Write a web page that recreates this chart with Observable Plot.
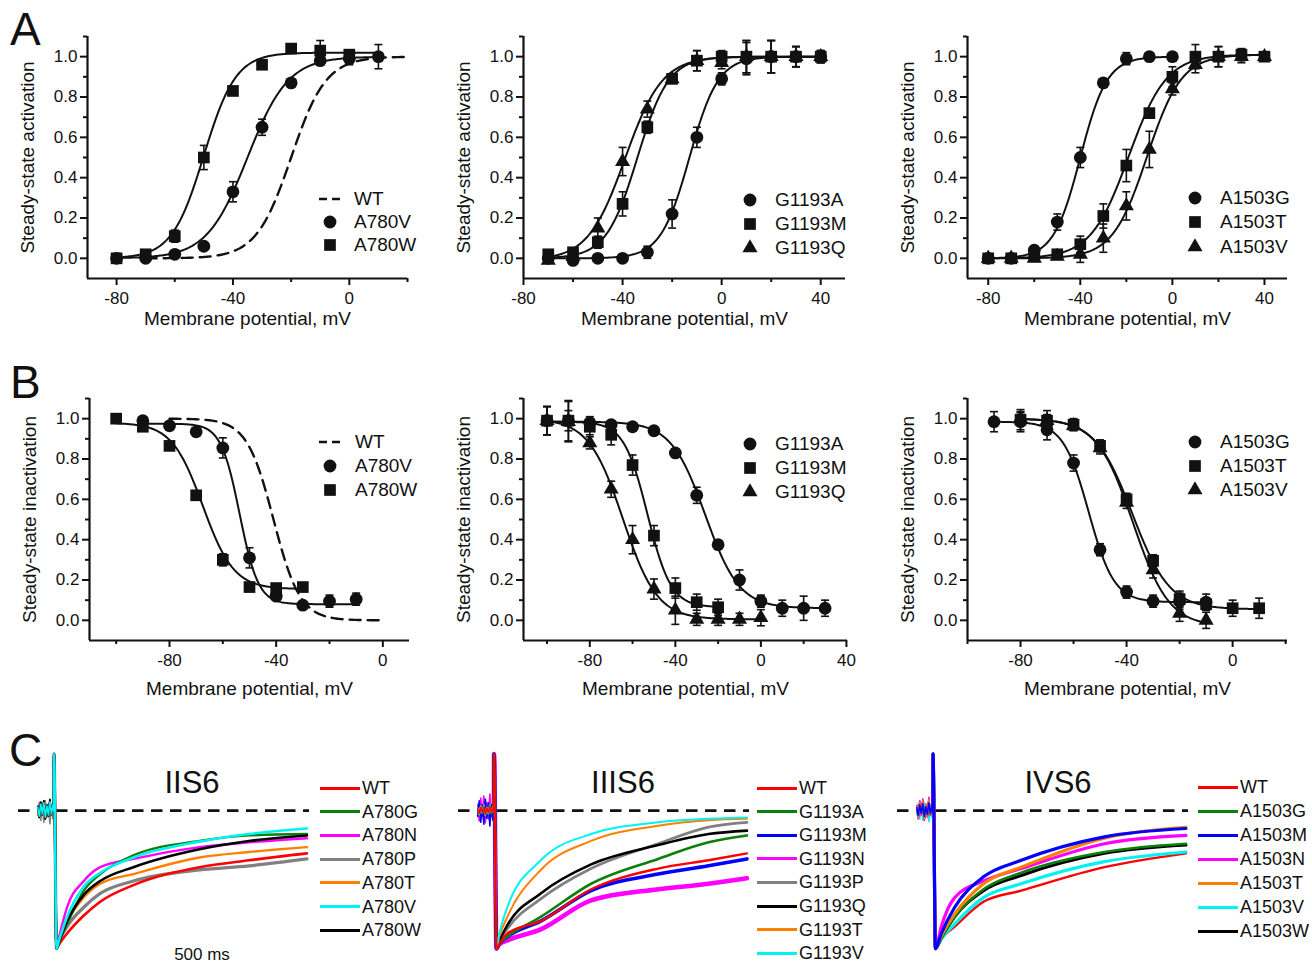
<!DOCTYPE html>
<html>
<head>
<meta charset="utf-8">
<script src="https://cdn.jsdelivr.net/npm/d3@7"></script>
<script src="https://cdn.jsdelivr.net/npm/@observablehq/plot@0.6"></script>
<style>
  body { margin: 0; background: #fff; font-family: Arial, "Liberation Sans", Helvetica, sans-serif; color: #111; }
  #root { position: relative; width: 1312px; height: 964px; overflow: hidden; background: #fff; }
  .letter { position: absolute; font-size: 46px; line-height: 46px; color: #111; }
  .title { position: absolute; font-size: 31px; line-height: 31px; transform: translateX(-50%); white-space: nowrap; }
  .legrow { position: absolute; height: 22px; line-height: 22px; font-size: 19px; white-space: nowrap; }
  .clegrow { position: absolute; height: 22px; line-height: 22px; font-size: 18px; white-space: nowrap; }
  .cline { position: absolute; top: 9.5px; height: 3px; width: 40px; left: 0; }
</style>
</head>
<body>
<div id="root"></div>
<script>
// ================= DATA =================
// ---- Row A: steady-state activation (membrane potential, mV) ----
// IIS6
const vActA780V = [-80,-70,-60,-50,-40,-30,-20,-10,0,10];
const actA780V  = [0.00,0.00,0.02,0.06,0.33,0.65,0.87,0.98,0.99,1.00];
const errActA780V = [0.01,0.01,0.02,0.01,0.05,0.04,0.02,0.02,0.03,0.06];
const vActA780W = [-80,-70,-60,-50,-40,-30,-20,-10,0];
const actA780W  = [0.00,0.02,0.11,0.50,0.83,0.96,1.04,1.03,1.01];
const errActA780W = [0.01,0.01,0.03,0.06,0.02,0.01,0.02,0.05,0.02];
// IIIS6
const vActG1193 = [-70,-60,-50,-40,-30,-20,-10,0,10,20,30,40];
const actG1193A = [0.00,-0.01,0.00,0.00,0.03,0.22,0.60,0.89,0.99,1.00,1.00,1.00];
const errActG1193A = [0.01,0.01,0.01,0.01,0.03,0.07,0.05,0.03,0.08,0.08,0.05,0.03];
const actG1193M = [0.02,0.03,0.08,0.27,0.65,0.89,0.98,1.00,1.00,1.00,1.00,1.00];
const errActG1193M = [0.01,0.01,0.03,0.06,0.03,0.02,0.05,0.03,0.08,0.08,0.05,0.03];
const actG1193Q = [-0.01,0.01,0.15,0.48,0.74,0.89,0.98,0.97,1.00,1.00,1.00,1.00];
const errActG1193Q = [0.01,0.01,0.05,0.07,0.04,0.02,0.05,0.03,0.08,0.08,0.05,0.03];
// IVS6
const vActA1503G = [-80,-70,-60,-50,-40,-30,-20,-10,0];
const actA1503G  = [0.00,0.00,0.04,0.18,0.50,0.87,0.99,1.00,1.00];
const errActA1503G = [0.01,0.01,0.02,0.04,0.05,0.02,0.03,0.02,0.02];
const vActA1503 = [-80,-70,-60,-50,-40,-30,-20,-10,0,10,20,30,40];
const actA1503T = [0.00,0.00,0.01,0.02,0.07,0.21,0.46,0.72,0.90,1.00,1.00,1.01,1.00];
const errActA1503T = [0.01,0.01,0.01,0.01,0.04,0.06,0.08,0.02,0.05,0.06,0.05,0.03,0.02];
const actA1503V = [0.00,0.00,0.00,0.01,0.02,0.10,0.26,0.54,0.84,0.96,1.00,1.00,1.00];
const errActA1503V = [0.01,0.01,0.01,0.01,0.04,0.07,0.07,0.09,0.03,0.04,0.05,0.03,0.02];

// ---- Row B: steady-state inactivation ----
// IIS6
const vInA780V = [-90,-80,-70,-60,-50,-40,-30,-20,-10];
const inA780V  = [0.99,0.965,0.935,0.855,0.31,0.12,0.075,0.095,0.105];
const errInA780V = [0.02,0.01,0.01,0.05,0.05,0.01,0.01,0.03,0.03];
const vInA780W = [-100,-90,-80,-70,-60,-50,-40,-30];
const inA780W  = [1.00,0.96,0.865,0.62,0.30,0.165,0.16,0.165];
const errInA780W = [0.01,0.02,0.02,0.02,0.03,0.02,0.02,0.02];
// IIIS6
const vInG1193A = [-100,-90,-80,-70,-60,-50,-40,-30,-20,-10,0,10,20,30];
const inG1193A  = [0.99,0.99,0.98,0.97,0.96,0.94,0.83,0.62,0.375,0.20,0.095,0.06,0.06,0.06];
const errInG1193A = [0.07,0.05,0.03,0.02,0.01,0.02,0.02,0.04,0.02,0.05,0.03,0.04,0.06,0.04];
const vInG1193M = [-100,-90,-80,-70,-60,-50,-40,-30,-20];
const inG1193M  = [0.99,0.99,0.96,0.92,0.77,0.42,0.16,0.09,0.065];
const errInG1193M = [0.07,0.10,0.04,0.05,0.05,0.05,0.05,0.04,0.04];
const vInG1193Q = [-100,-90,-80,-70,-60,-50,-40,-30,-20,-10,0];
const inG1193Q  = [0.99,0.985,0.88,0.65,0.40,0.155,0.05,0.005,0.005,0.005,0.013];
const errInG1193Q = [0.07,0.10,0.03,0.04,0.07,0.05,0.07,0.03,0.03,0.03,0.04];
// IVS6
const vInA1503G = [-90,-80,-70,-60,-50,-40,-30,-20,-10];
const inA1503G  = [0.985,0.985,0.945,0.78,0.35,0.14,0.095,0.095,0.09];
const errInA1503G = [0.05,0.05,0.05,0.04,0.03,0.03,0.03,0.04,0.04];
const vInA1503T = [-80,-70,-60,-50,-40,-30,-20,-10,0,10];
const inA1503T  = [0.995,0.99,0.97,0.865,0.60,0.295,0.105,0.08,0.06,0.06];
const errInA1503T = [0.05,0.05,0.03,0.03,0.03,0.03,0.04,0.03,0.04,0.05];
const vInA1503V = [-80,-70,-60,-50,-40,-30,-20,-10];
const inA1503V  = [1.00,0.99,0.965,0.855,0.585,0.25,0.035,0.00];
const errInA1503V = [0.03,0.03,0.02,0.03,0.03,0.04,0.04,0.04];

// ---- Boltzmann fit parameters: [name, V1/2, k, top, bottom, from, to, dashed] ----
const fitsActIIS6  = [["WT",-20,6,1.0,0,-70,20,true],["A780V",-35,7,1.0,0,-80,10,false],["A780W",-50,5.5,1.02,0,-80,10,false]];
const fitsActIIIS6 = [["G1193A",-13,5.8,1.0,0,-70,40,false],["G1193M",-34,6.3,1.0,0,-70,40,false],["G1193Q",-39,7.5,1.0,-0.01,-70,40,false]];
const fitsActIVS6  = [["A1503G",-40,5.8,1.0,0,-80,0,false],["A1503T",-19,8.2,1.01,0,-80,40,false],["A1503V",-11,7.5,1.01,0,-80,40,false]];
const fitsInIIS6   = [["WT",-41,-5,1.0,0,-80,0,true],["A780V",-53.7,-3.5,0.975,0.08,-90,-10,false],["A780W",-67.5,-5.8,0.98,0.155,-100,-30,false]];
const fitsInIIIS6  = [["G1193A",-26,-8,0.985,0.06,-100,30,false],["G1193M",-53,-5.5,0.985,0.065,-100,-20,false],["G1193Q",-64.5,-8,1.0,0.005,-100,0,false]];
const fitsInIVS6   = [["A1503G",-54.3,-4.8,0.985,0.09,-90,-10,false],["A1503T",-37.8,-7,1.0,0.055,-80,10,false],["A1503V",-37.6,-6.8,1.0,-0.03,-80,-10,false]];

// ---- Axis ticks ----
const yMajorTicks = [0,0.2,0.4,0.6,0.8,1.0];
const yMinorTicks = [0.1,0.3,0.5,0.7,0.9,1.1];
const xMajorTicks = [-80,-40,0,40];
const xMinorTicks = [-100,-60,-20,20];

// ---- Row C: normalized current traces (time, ms) ----
const tPre = [-64,-58,-52,-46,-40,-34,-28,-22,-16,-10,-4,0];
const preNoise = [0.03,-0.05,0.06,-0.03,0.07,-0.06,0.04,-0.04,0.08,-0.03,0.05,0.0];
const tSpike = [0, 0.5];
const iSpike = [0.0, 0.41];

const tIIS6 = [10,20,52,118,183,314,575,771,1000];
const iIIS6_WT    = [-1.0,-0.97,-0.89,-0.76,-0.66,-0.54,-0.41,-0.36,-0.31];
const iIIS6_A780G = [-1.0,-0.95,-0.82,-0.58,-0.46,-0.325,-0.22,-0.18,-0.17];
const iIIS6_A780N = [-1.0,-0.92,-0.70,-0.51,-0.41,-0.35,-0.265,-0.23,-0.20];
const iIIS6_A780P = [-1.0,-0.95,-0.84,-0.70,-0.60,-0.51,-0.43,-0.40,-0.35];
const iIIS6_A780T = [-1.0,-0.95,-0.81,-0.63,-0.53,-0.46,-0.34,-0.30,-0.265];
const iIIS6_A780V = [-1.0,-0.94,-0.77,-0.55,-0.45,-0.34,-0.225,-0.17,-0.13];
const iIIS6_A780W = [-1.0,-0.95,-0.80,-0.61,-0.51,-0.41,-0.28,-0.22,-0.18];

const tIIIS6 = [10,20,53,185,384,649,848,1000];
const iIIIS6_WT     = [-1.0,-0.97,-0.89,-0.80,-0.57,-0.42,-0.36,-0.31];
const iIIIS6_G1193A = [-1.0,-0.97,-0.915,-0.77,-0.53,-0.35,-0.23,-0.18];
const iIIIS6_G1193M = [-1.0,-0.97,-0.915,-0.80,-0.58,-0.46,-0.40,-0.35];
const iIIIS6_G1193N = [-1.0,-0.97,-0.94,-0.86,-0.65,-0.57,-0.53,-0.49];
const iIIIS6_G1193P = [-1.0,-0.95,-0.855,-0.64,-0.42,-0.24,-0.12,-0.085];
const iIIIS6_G1193Q = [-1.0,-0.95,-0.83,-0.60,-0.39,-0.25,-0.17,-0.145];
const iIIIS6_G1193T = [-1.0,-0.92,-0.77,-0.43,-0.22,-0.11,-0.07,-0.06];
const iIIIS6_G1193V = [-1.0,-0.90,-0.70,-0.36,-0.17,-0.085,-0.06,-0.05];

const tIVS6 = [10,33,86,200,349,678,1000];
const iIVS6_WT     = [-1.0,-0.93,-0.84,-0.66,-0.58,-0.41,-0.31];
const iIVS6_A1503G = [-1.0,-0.92,-0.77,-0.57,-0.45,-0.30,-0.24];
const iIVS6_A1503M = [-1.0,-0.89,-0.70,-0.48,-0.36,-0.19,-0.13];
const iIVS6_A1503N = [-1.0,-0.84,-0.63,-0.51,-0.42,-0.24,-0.18];
const iIVS6_A1503T = [-1.0,-0.91,-0.75,-0.53,-0.41,-0.20,-0.12];
const iIVS6_A1503V = [-1.0,-0.93,-0.82,-0.63,-0.53,-0.37,-0.30];
const iIVS6_A1503W = [-1.0,-0.92,-0.77,-0.58,-0.47,-0.31,-0.25];

const traceColors = {red:"#ff0000", green:"#0b7f0b", blue:"#0000ff", magenta:"#ff00ff", grey:"#808080", orange:"#ff7f00", cyan:"#00f2f2", black:"#000000"};

// ================= DRAWING =================
const root = document.getElementById("root");
const FONT = "Arial, 'Liberation Sans', Helvetica, sans-serif";
const capSym = { draw(ctx) { ctx.moveTo(-4, 0); ctx.lineTo(4, 0); } };

function place(el, left, top) {
  el.style.position = "absolute";
  el.style.left = left + "px";
  el.style.top = top + "px";
  root.appendChild(el);
}

function boltz(f, v) {
  const [, vh, k, top, bot] = f;
  return bot + (top - bot) / (1 + Math.exp((vh - v) / k));
}

function ivPanel(cfg) {
  const ml = 90, mt = 8, mr = 10, mb = 64;
  const marks = [
    Plot.ruleX([cfg.xDomain[0]], {strokeWidth: 2.2, stroke: "#111"}),
    Plot.ruleY([-0.1], {strokeWidth: 2.2, stroke: "#111"}),
    Plot.axisX({ticks: xMajorTicks.filter(t => t >= cfg.xDomain[0] && t <= cfg.xDomain[1]), tickSize: 7, tickPadding: 6, tickFormat: d => String(d), fontSize: 17, label: null, strokeWidth: 2}),
    Plot.axisX({ticks: xMinorTicks.filter(t => t >= cfg.xDomain[0] && t <= cfg.xDomain[1] + 0.5), tickSize: 4, tickFormat: () => "", label: null, strokeWidth: 2}),
    Plot.axisY({ticks: yMajorTicks, tickSize: 7, tickPadding: 3, tickFormat: d => d.toFixed(1), fontSize: 17, label: null, strokeWidth: 2}),
    Plot.axisY({ticks: yMinorTicks, tickSize: 4, tickFormat: () => "", label: null, strokeWidth: 2})
  ];
  cfg.fits.forEach(f => {
    const pts = d3.range(f[5], f[6] + 0.001, 0.5).map(v => ({v, y: boltz(f, v)}));
    marks.push(Plot.line(pts, {x: "v", y: "y", stroke: "#111", strokeWidth: f[7] ? 2.4 : 2, strokeDasharray: f[7] ? "11,7" : null, curve: "linear"}));
  });
  cfg.series.forEach(s => {
    const pts = s.v.map((v, i) => ({v, y: s.y[i], e: s.err[i]}));
    marks.push(Plot.ruleX(pts, {x: "v", y1: d => d.y - d.e, y2: d => d.y + d.e, stroke: "#111", strokeWidth: 1.6}));
    marks.push(Plot.dot(pts, {x: "v", y: d => d.y + d.e, symbol: capSym, fill: "none", stroke: "#111", strokeWidth: 1.6}));
    marks.push(Plot.dot(pts, {x: "v", y: d => d.y - d.e, symbol: capSym, fill: "none", stroke: "#111", strokeWidth: 1.6}));
    const r = s.sym === "circle" ? 6.4 : s.sym === "square" ? 6.6 : 5.6;
    marks.push(Plot.dot(pts, {x: "v", y: "y", symbol: s.sym, r, fill: "#111", stroke: "none"}));
  });
  marks.push(Plot.text([cfg.xLabel], {frameAnchor: "bottom", dy: cfg.xLabelDy, textAnchor: "middle", lineAnchor: "middle", fontSize: 19, fill: "#111"}));
  marks.push(Plot.text([cfg.yLabel], {frameAnchor: "left", rotate: -90, dx: -60, textAnchor: "middle", lineAnchor: "middle", fontSize: 19, fill: "#111"}));

  const svg = Plot.plot({
    width: ml + cfg.W + mr, height: mt + cfg.H + mb,
    marginLeft: ml, marginTop: mt, marginRight: mr, marginBottom: mb,
    x: {domain: cfg.xDomain}, y: {domain: [-0.1, 1.1]},
    style: {fontFamily: FONT, fontSize: "17px", color: "#111", background: "transparent", overflow: "visible"},
    marks
  });
  place(svg, cfg.L - ml, cfg.T - mt);

  cfg.legend.items.forEach((it, i) => {
    const row = document.createElement("div");
    row.className = "legrow";
    const sx = cfg.legend.symX, ry = cfg.legend.rows[i];
    const ns = "http://www.w3.org/2000/svg";
    const s = document.createElementNS(ns, "svg");
    s.setAttribute("width", 30); s.setAttribute("height", 22);
    s.style.position = "absolute"; s.style.left = "0px"; s.style.top = "0px";
    const shape = document.createElementNS(ns, "path");
    if (it.sym === "dash") {
      shape.setAttribute("d", "M4,11h8M17,11h8");
      shape.setAttribute("stroke", "#111"); shape.setAttribute("stroke-width", "2.4");
    } else {
      const r = it.sym === "circle" ? 6.4 : it.sym === "square" ? 6.6 : 5.6;
      const type = it.sym === "circle" ? d3.symbolCircle : it.sym === "square" ? d3.symbolSquare : d3.symbolTriangle;
      shape.setAttribute("d", d3.symbol(type, Math.PI * r * r)());
      shape.setAttribute("transform", "translate(15,11)");
      shape.setAttribute("fill", "#111");
    }
    s.appendChild(shape);
    row.appendChild(s);
    const lab = document.createElement("span");
    lab.textContent = it.label;
    lab.style.position = "absolute";
    lab.style.left = (cfg.legend.labelX - (sx - 15)) + "px";
    row.appendChild(lab);
    place(row, sx - 15, ry - 11);
  });
}

const act = "Steady-state activation", inact = "Steady-state inactivation", mv = "Membrane potential, mV";

ivPanel({L: 87, T: 36, W: 320, H: 242, xDomain: [-90, 20], xLabel: mv, yLabel: act, xLabelDy: 40,
  fits: fitsActIIS6,
  series: [{v: vActA780V, y: actA780V, err: errActA780V, sym: "circle"}, {v: vActA780W, y: actA780W, err: errActA780W, sym: "square"}],
  legend: {symX: 330, labelX: 354, rows: [199, 222, 245], items: [{sym: "dash", label: "WT"}, {sym: "circle", label: "A780V"}, {sym: "square", label: "A780W"}]}});
ivPanel({L: 523, T: 36, W: 322, H: 242, xDomain: [-80, 50], xLabel: mv, yLabel: act, xLabelDy: 40,
  fits: fitsActIIIS6,
  series: [{v: vActG1193, y: actG1193A, err: errActG1193A, sym: "circle"}, {v: vActG1193, y: actG1193M, err: errActG1193M, sym: "square"}, {v: vActG1193, y: actG1193Q, err: errActG1193Q, sym: "triangle"}],
  legend: {symX: 750, labelX: 775, rows: [200, 224, 248], items: [{sym: "circle", label: "G1193A"}, {sym: "square", label: "G1193M"}, {sym: "triangle", label: "G1193Q"}]}});
ivPanel({L: 967, T: 36, W: 320, H: 242, xDomain: [-89, 50], xLabel: mv, yLabel: act, xLabelDy: 40,
  fits: fitsActIVS6,
  series: [{v: vActA1503G, y: actA1503G, err: errActA1503G, sym: "circle"}, {v: vActA1503, y: actA1503T, err: errActA1503T, sym: "square"}, {v: vActA1503, y: actA1503V, err: errActA1503V, sym: "triangle"}],
  legend: {symX: 1195, labelX: 1220, rows: [198, 222, 247], items: [{sym: "circle", label: "A1503G"}, {sym: "square", label: "A1503T"}, {sym: "triangle", label: "A1503V"}]}});

ivPanel({L: 89, T: 397.5, W: 320, H: 242, xDomain: [-110, 10], xLabel: mv, yLabel: inact, xLabelDy: 48,
  fits: fitsInIIS6,
  series: [{v: vInA780V, y: inA780V, err: errInA780V, sym: "circle"}, {v: vInA780W, y: inA780W, err: errInA780W, sym: "square"}],
  legend: {symX: 330, labelX: 355, rows: [442, 466, 490], items: [{sym: "dash", label: "WT"}, {sym: "circle", label: "A780V"}, {sym: "square", label: "A780W"}]}});
ivPanel({L: 523, T: 397.5, W: 324, H: 242, xDomain: [-111, 40.5], xLabel: mv, yLabel: inact, xLabelDy: 48,
  fits: fitsInIIIS6,
  series: [{v: vInG1193A, y: inG1193A, err: errInG1193A, sym: "circle"}, {v: vInG1193M, y: inG1193M, err: errInG1193M, sym: "square"}, {v: vInG1193Q, y: inG1193Q, err: errInG1193Q, sym: "triangle"}],
  legend: {symX: 750, labelX: 775, rows: [444, 468, 492], items: [{sym: "circle", label: "G1193A"}, {sym: "square", label: "G1193M"}, {sym: "triangle", label: "G1193Q"}]}});
ivPanel({L: 967, T: 397.5, W: 320, H: 242, xDomain: [-100, 20.7], xLabel: mv, yLabel: inact, xLabelDy: 48,
  fits: fitsInIVS6,
  series: [{v: vInA1503G, y: inA1503G, err: errInA1503G, sym: "circle"}, {v: vInA1503T, y: inA1503T, err: errInA1503T, sym: "square"}, {v: vInA1503V, y: inA1503V, err: errInA1503V, sym: "triangle"}],
  legend: {symX: 1195, labelX: 1220, rows: [442, 466, 490], items: [{sym: "circle", label: "A1503G"}, {sym: "square", label: "A1503T"}, {sym: "triangle", label: "A1503V"}]}});

// ---- Row C traces ----
function tracePanel(cfg) {
  const W = 291, H = 221; // frame: x [-140, 1010] ms, y [-1.1, 0.5]
  const marks = [
    Plot.ruleY([0], {stroke: "#111", strokeWidth: 2.7, strokeDasharray: "11.5,7.5"})
  ];
  cfg.draw.forEach(s => {
    const pre = tPre.map((t, i) => ({t, i: preNoise[i] * s.pre}));
    const main = tSpike.map((t, i) => ({t, i: iSpike[i]})).concat(cfg.t.map((t, i) => ({t, i: s.y[i]})));
    marks.push(Plot.line(pre, {x: "t", y: "i", stroke: traceColors[s.color], strokeWidth: 1.6}));
    marks.push(Plot.line(main, {x: "t", y: "i", stroke: traceColors[s.color], strokeWidth: s.w, curve: "monotone-x"}));
  });
  const svg = Plot.plot({
    width: W, height: H, margin: 0,
    x: {domain: [-140, 1010], axis: null}, y: {domain: [-1.1, 0.5], axis: null},
    style: {fontFamily: FONT, background: "transparent", overflow: "visible"},
    marks
  });
  place(svg, cfg.left, 741);

  const t = document.createElement("div");
  t.className = "title"; t.textContent = cfg.title;
  place(t, cfg.titleX, 767);

  cfg.legend.forEach((it, i) => {
    const row = document.createElement("div");
    row.className = "clegrow";
    const ln = document.createElement("div");
    ln.className = "cline"; ln.style.background = traceColors[it.color];
    row.appendChild(ln);
    const lab = document.createElement("span");
    lab.textContent = it.label;
    lab.style.position = "absolute"; lab.style.left = "42px";
    row.appendChild(lab);
    place(row, cfg.legX, cfg.legY0 + i * cfg.legStep - 11);
  });
}

tracePanel({left: 17.6, title: "IIS6", titleX: 192, t: tIIS6,
  draw: [
    {y: iIIS6_A780P, color: "grey", w: 3.2, pre: -1.2},
    {y: iIIS6_WT, color: "red", w: 2.6, pre: 1},
    {y: iIIS6_A780T, color: "orange", w: 2.4, pre: 1},
    {y: iIIS6_A780N, color: "magenta", w: 2.4, pre: 1},
    {y: iIIS6_A780G, color: "green", w: 2.4, pre: 1},
    {y: iIIS6_A780W, color: "black", w: 2.6, pre: 1},
    {y: iIIS6_A780V, color: "cyan", w: 2.6, pre: 0.8}
  ],
  legX: 320, legY0: 788, legStep: 23.7,
  legend: [{label: "WT", color: "red"}, {label: "A780G", color: "green"}, {label: "A780N", color: "magenta"}, {label: "A780P", color: "grey"}, {label: "A780T", color: "orange"}, {label: "A780V", color: "cyan"}, {label: "A780W", color: "black"}]});

tracePanel({left: 457.6, title: "IIIS6", titleX: 623, t: tIIIS6,
  draw: [
    {y: iIIIS6_G1193N, color: "magenta", w: 4.5, pre: 1.5},
    {y: iIIIS6_G1193M, color: "blue", w: 3.6, pre: -1.4},
    {y: iIIIS6_G1193A, color: "green", w: 2.6, pre: 0.6},
    {y: iIIIS6_G1193P, color: "grey", w: 2.8, pre: 0.6},
    {y: iIIIS6_G1193Q, color: "black", w: 2.6, pre: 0.5},
    {y: iIIIS6_G1193T, color: "orange", w: 2, pre: 0.5},
    {y: iIIIS6_G1193V, color: "cyan", w: 2, pre: 0.5},
    {y: iIIIS6_WT, color: "red", w: 2.4, pre: 0.4}
  ],
  legX: 757, legY0: 788, legStep: 23.6,
  legend: [{label: "WT", color: "red"}, {label: "G1193A", color: "green"}, {label: "G1193M", color: "blue"}, {label: "G1193N", color: "magenta"}, {label: "G1193P", color: "grey"}, {label: "G1193Q", color: "black"}, {label: "G1193T", color: "orange"}, {label: "G1193V", color: "cyan"}]});

tracePanel({left: 896.6, title: "IVS6", titleX: 1058, t: tIVS6,
  draw: [
    {y: iIVS6_WT, color: "red", w: 2.4, pre: 1},
    {y: iIVS6_A1503V, color: "cyan", w: 3.2, pre: -1},
    {y: iIVS6_A1503W, color: "black", w: 3, pre: 1},
    {y: iIVS6_A1503G, color: "green", w: 2.6, pre: 1},
    {y: iIVS6_A1503N, color: "magenta", w: 3.2, pre: 1.2},
    {y: iIVS6_A1503T, color: "orange", w: 3, pre: 1},
    {y: iIVS6_A1503M, color: "blue", w: 3.2, pre: 0.7}
  ],
  legX: 1198, legY0: 787, legStep: 24,
  legend: [{label: "WT", color: "red"}, {label: "A1503G", color: "green"}, {label: "A1503M", color: "blue"}, {label: "A1503N", color: "magenta"}, {label: "A1503T", color: "orange"}, {label: "A1503V", color: "cyan"}, {label: "A1503W", color: "black"}]});

const ms = document.createElement("div");
ms.className = "title"; ms.style.fontSize = "17px"; ms.style.lineHeight = "17px"; ms.textContent = "500 ms";
place(ms, 202, 945.6);

[["A", 10, 6], ["B", 10, 359], ["C", 9, 727]].forEach(([txt, x, y]) => {
  const d = document.createElement("div");
  d.className = "letter"; d.textContent = txt;
  place(d, x, y);
});
</script>
</body>
</html>
